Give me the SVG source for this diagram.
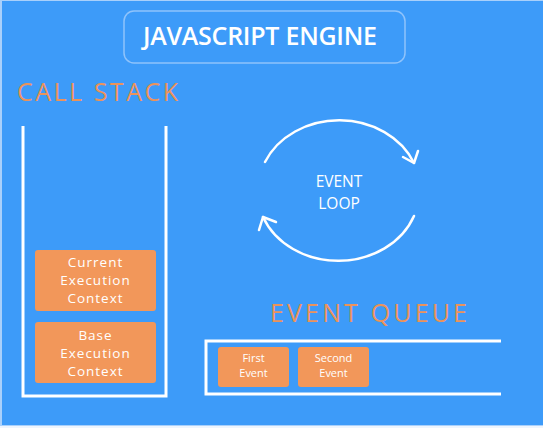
<svg xmlns="http://www.w3.org/2000/svg" width="543" height="428" viewBox="0 0 543 428">
<style>
.hd{font-family:"Open Sans","Liberation Sans",sans-serif;font-size:25px;fill:#ec935a}
.box{fill:#f2975a}
.bt{font-family:"Open Sans","Liberation Sans",sans-serif;font-size:13.5px;fill:#fff;text-anchor:middle;letter-spacing:1px}
.et{font-family:"Open Sans","Liberation Sans",sans-serif;font-size:11px;fill:#fff;text-anchor:middle}
.lt{font-family:"Open Sans","Liberation Sans",sans-serif;font-size:15.5px;fill:#fff;text-anchor:middle}
.wl{fill:none;stroke:#fff;stroke-width:3}
.arc{fill:none;stroke:#fff;stroke-width:2.5;stroke-linecap:round;stroke-linejoin:round}
</style>
<rect x="0" y="0" width="543" height="428" fill="#eef5fe"/>
<rect x="0" y="0" width="543" height="426" fill="#a9d0fb"/>
<rect x="2" y="1" width="541" height="424" fill="#3d9bf9"/>
<g id="title">
<rect x="124" y="11" width="281" height="52" rx="10" fill="none" stroke="#8fc3fb" stroke-width="1.5"/>
<text x="143" y="45" textLength="234" lengthAdjust="spacing" font-family="Open Sans, Liberation Sans, sans-serif" font-size="25" font-weight="600" fill="#fff">JAVASCRIPT ENGINE</text>
</g>
<g id="call-stack">
<text class="hd" x="17" y="101" textLength="161" lengthAdjust="spacing">CALL STACK</text>
<path class="wl" d="M23,126 L23,396 L166,396 L166,126"/>
</g>
<g id="current-context">
<rect class="box" x="35" y="250" width="121" height="61" rx="3"/>
<text class="bt" x="95.5" y="267">Current</text>
<text class="bt" x="95.5" y="285">Execution</text>
<text class="bt" x="95.5" y="303">Context</text>
</g>
<g id="base-context">
<rect class="box" x="35" y="322" width="121" height="61" rx="3"/>
<text class="bt" x="95.5" y="340">Base</text>
<text class="bt" x="95.5" y="358">Execution</text>
<text class="bt" x="95.5" y="376">Context</text>
</g>
<g id="event-loop">
<text class="lt" x="339" y="187">EVENT</text>
<text class="lt" x="339" y="209">LOOP</text>
</g>
<g id="connectors">
<path class="arc" d="M265,162 A81,69.5 0 0 1 414,163"/>
<path class="arc" d="M403,157 L414,163 L418,151"/>
<path class="arc" d="M414,216 A81,69.5 0 0 1 263,217"/>
<path class="arc" d="M276,222 L263,217 L259,230"/>
</g>
<g id="event-queue">
<text class="hd" x="270" y="322" textLength="197" lengthAdjust="spacing">EVENT QUEUE</text>
<path class="wl" d="M501,341 L206,341 L206,394 L501,394"/>
</g>
<g id="first-event">
<rect class="box" x="218" y="347" width="71" height="40" rx="3"/>
<text class="et" x="253.5" y="362">First</text>
<text class="et" x="253.5" y="377">Event</text>
</g>
<g id="second-event">
<rect class="box" x="298" y="347" width="71" height="40" rx="3"/>
<text class="et" x="333.5" y="362">Second</text>
<text class="et" x="333.5" y="377">Event</text>
</g>
</svg>
